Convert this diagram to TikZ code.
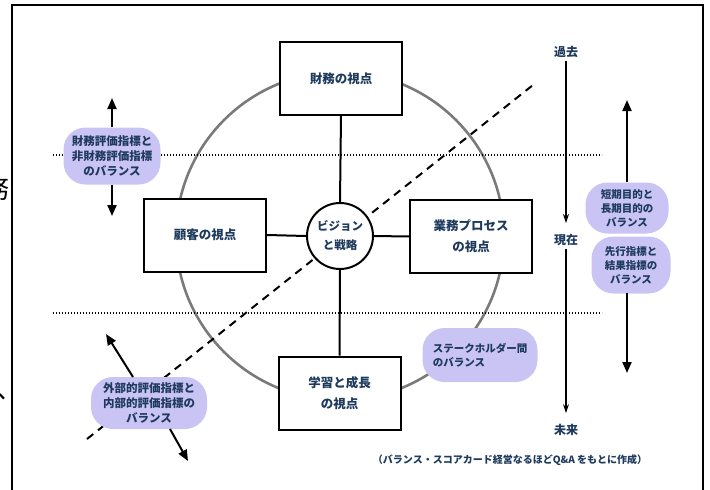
\documentclass[tikz,border=0pt]{standalone}
\usepackage{fontspec}
\setmainfont{Noto Sans CJK JP}
\usetikzlibrary{arrows.meta}
\definecolor{ink}{HTML}{1E3A5C}
\definecolor{lav}{HTML}{C9C4F4}
\definecolor{ring}{HTML}{7A7A7A}
\begin{document}
\begin{tikzpicture}[x=1pt,y=-1pt,
 view/.style={draw=black, line width=2pt, fill=white, minimum width=122pt, minimum height=73pt, inner sep=0pt,
   font=\fontsize{12.5}{21}\selectfont\bfseries, text=ink, align=center},
 pill/.style={fill=lav, rounded corners=22pt, align=center, inner sep=0pt, text=ink},
 bigpill/.style={pill, font=\fontsize{11.5}{15}\selectfont\bfseries},
 smallpill/.style={pill, font=\fontsize{10.5}{14}\selectfont\bfseries},
 conn/.style={line width=2pt},
 bigarrow/.style={line width=2pt, -{Triangle[length=11pt,width=9pt]}},
 timearrow/.style={line width=1.6pt, -{Stealth[length=9pt,width=6pt]}},
 lbl/.style={font=\fontsize{12}{14}\selectfont\bfseries, text=ink, inner sep=3pt},
 dots/.style={line width=2pt, dash pattern=on 1.4pt off 1.6pt},
 dashline/.style={line width=2pt, dash pattern=on 8pt off 6pt},
 stray/.style={font=\fontsize{26}{26}\selectfont, inner sep=0pt, text=black},
]
\useasboundingbox (0,0) rectangle (710,490);
\clip (0,0) rectangle (710,490);

% stray characters of the surrounding page
\node[stray, anchor=east] (s1) at (10,189) {務};
\node[stray, anchor=south west] (s2) at (-4,400) {、};

% frame
\draw[line width=2pt] (12,5) rectangle (703,520);

% big ring
\coordinate (c0) at (340,236);
\draw[ring, line width=2.6pt] (c0) circle (164pt);

% dotted lines
\coordinate (t1) at (53,155);
\coordinate (t2) at (602,155);
\coordinate (b1) at (53,313);
\coordinate (b2) at (602,313);
\draw[dots] (t1) -- (t2);
\draw[dots] (b1) -- (b2);

% dashed diagonal
\coordinate (dA) at (87,439);
\coordinate (dB) at (533,85);
\draw[dashline] (dA) -- (dB);

% perspective boxes
\node[view] (fin) at (341,78.5) {財務の視点};
\node[view] (cust) at (205,235) {顧客の視点};
\node[view] (proc) at (471,236.5) {業務プロセス\\の視点};
\node[view] (learn) at (339.5,393) {学習と成長\\の視点};

% centre
\node[circle, draw=black, line width=2pt, fill=white, minimum size=66pt, inner sep=0pt,
  font=\fontsize{11.5}{19}\selectfont\bfseries, text=ink, align=center] (vis) at (340,236) {ビジョン\\と戦略};

\draw[conn] (fin.south) -- (vis.north);
\draw[conn] (vis.south) -- (learn.north);
\draw[conn] (cust.east) -- (vis.west);
\draw[conn] (vis.east) -- (proc.west);

% balance pills
\node[bigpill, minimum width=97pt, minimum height=57pt] (p1) at (112,156) {財務評価指標と\\非財務評価指標\\のバランス};
\node[bigpill, minimum width=116pt, minimum height=52pt] (p2) at (149,403) {外部的評価指標と\\内部的評価指標の\\バランス};
\node[smallpill, minimum width=115pt, minimum height=54pt, align=left] (p3) at (480,355) {ステークホルダー間\\のバランス};
\node[smallpill, minimum width=83pt, minimum height=51pt] (p4) at (627,208) {短期目的と\\長期目的の\\バランス};
\node[smallpill, minimum width=79pt, minimum height=57pt] (p5) at (631,265) {先行指標と\\結果指標の\\バランス};

% pill arrows
\coordinate (p1u) at (112,98);
\coordinate (p1d) at (112,216);
\draw[bigarrow] (p1.north) -- (p1u);
\draw[bigarrow] (p1.south) -- (p1d);
\coordinate (p2a) at (133,377);
\coordinate (p2u) at (106,334);
\coordinate (p2b) at (170,429);
\coordinate (p2d) at (188,461);
\draw[bigarrow] (p2a) -- (p2u);
\draw[bigarrow] (p2b) -- (p2d);
\coordinate (p4u) at (627,100);
\coordinate (p5s) at (627,293);
\coordinate (p5d) at (627,373);
\draw[bigarrow] (p4.north) -- (p4u);
\draw[bigarrow] (p5s) -- (p5d);

% time axis
\node[lbl] (past) at (566,52) {過去};
\node[lbl] (now) at (566,240) {現在};
\node[lbl] (fut) at (566,430) {未来};
\draw[timearrow, shorten >=8pt] (past.south) -- (now.north);
\draw[timearrow, shorten >=8pt] (now.south) -- (fut.north);

% source
\node[font=\fontsize{10}{12}\selectfont\bfseries, text=ink] (src) at (510,460) {（バランス・スコアカード経営なるほどQ\&A をもとに作成）};
\end{tikzpicture}
\end{document}
